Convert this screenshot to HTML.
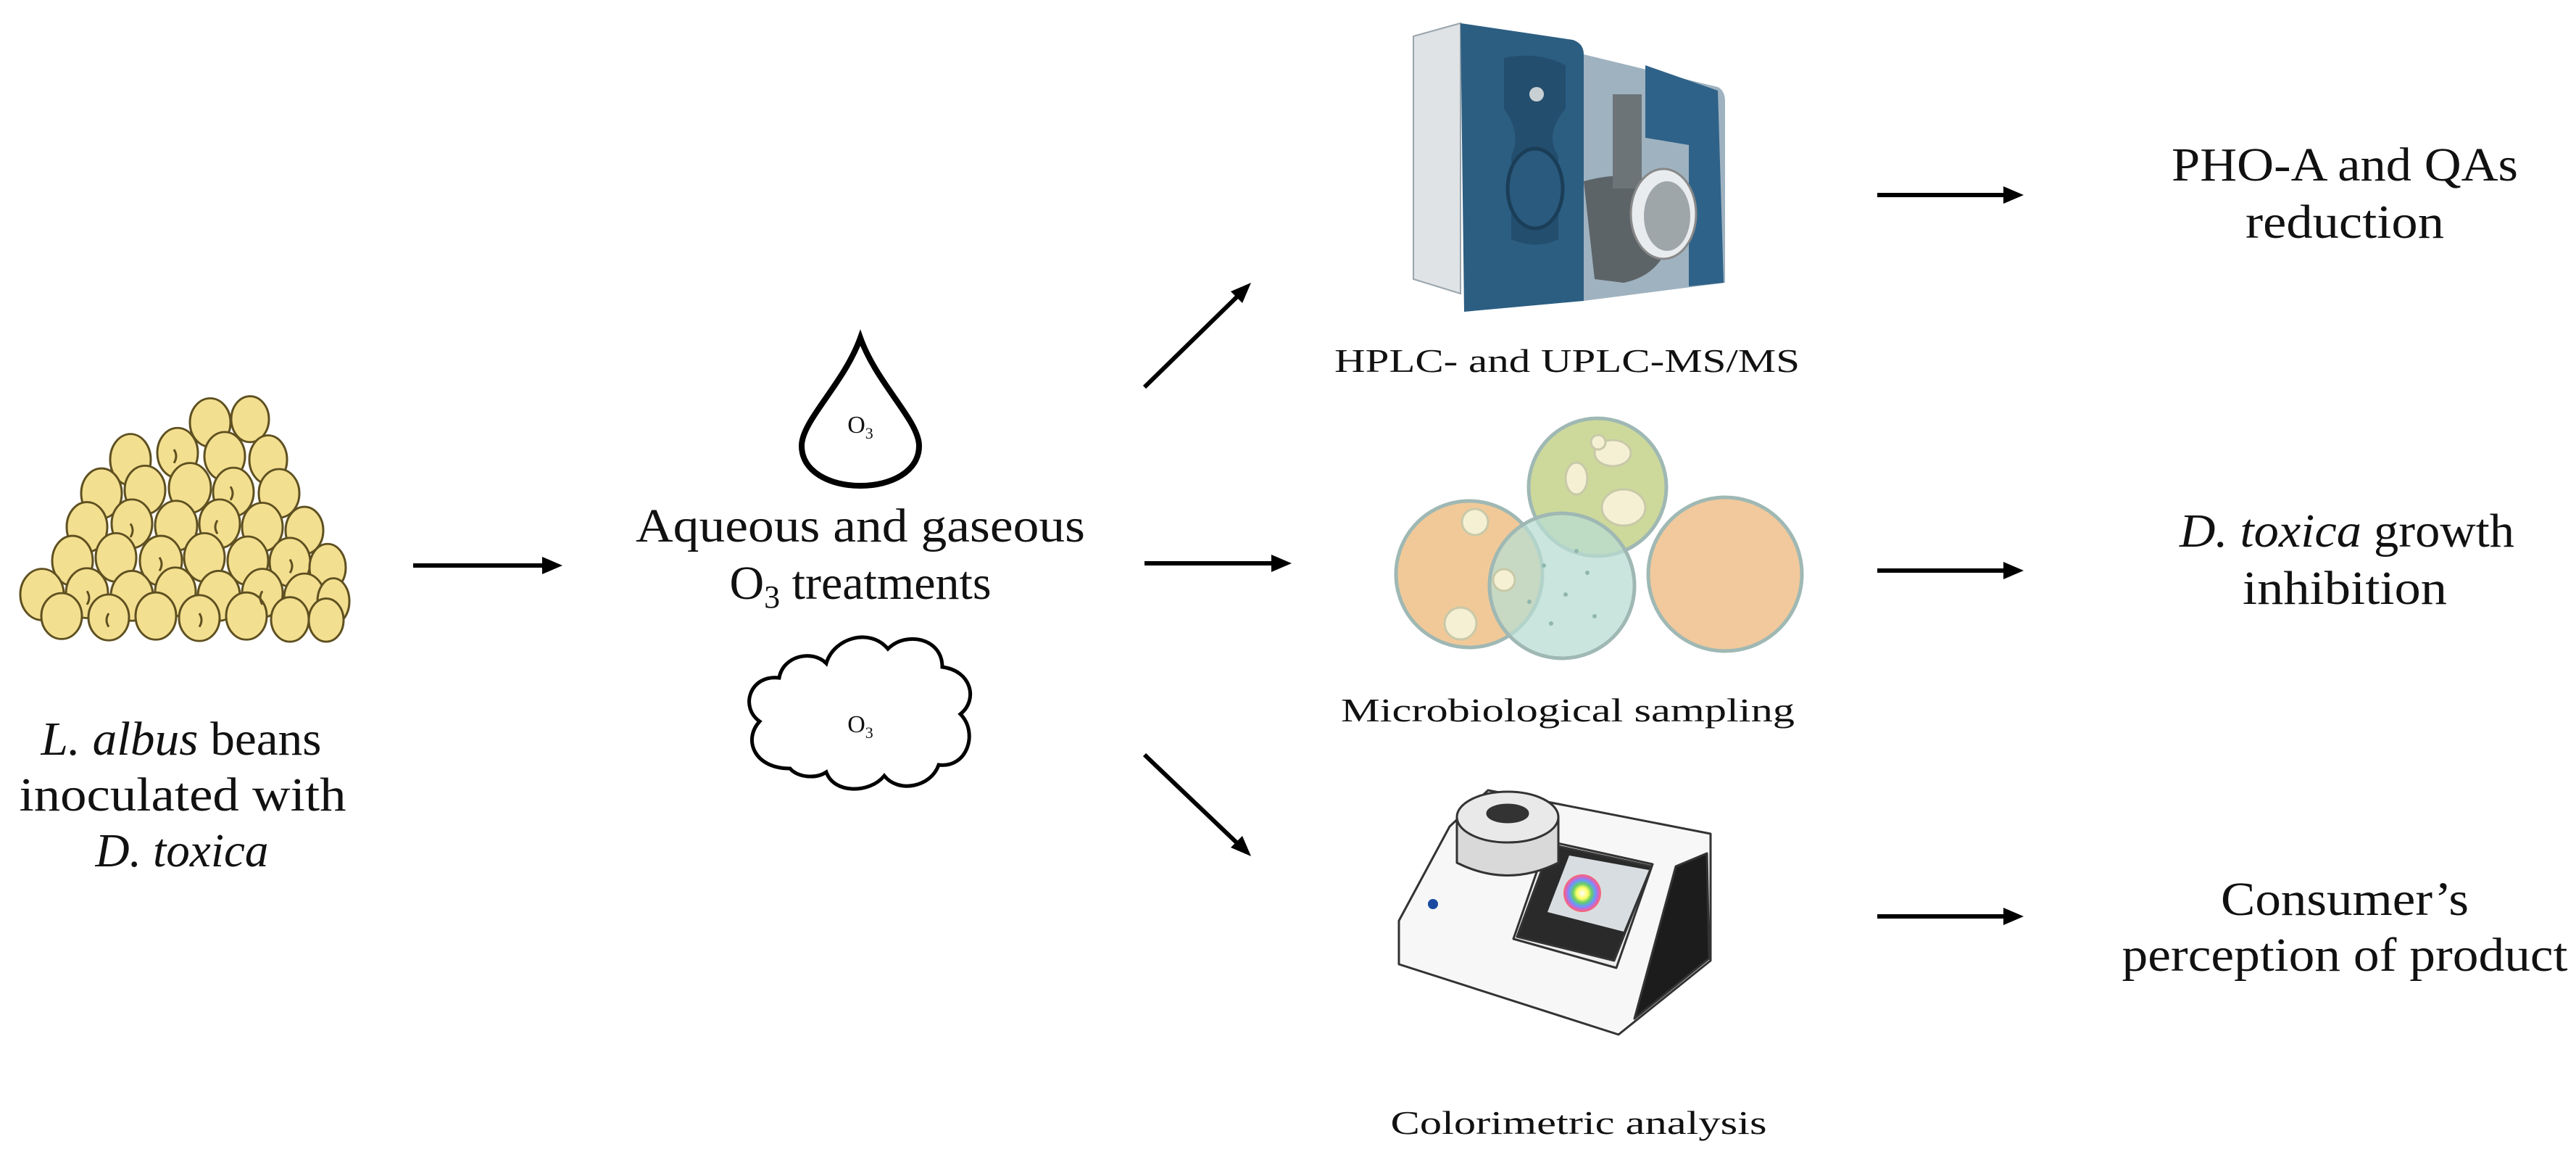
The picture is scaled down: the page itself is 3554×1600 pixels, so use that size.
<!DOCTYPE html>
<html><head><meta charset="utf-8"><style>
html,body{margin:0;padding:0;background:#fff}
svg{display:block}
text{font-family:"Liberation Serif",serif;fill:#111}
</style></head><body>
<svg width="3554" height="1600" viewBox="0 0 3554 1600" xmlns="http://www.w3.org/2000/svg">
<defs>
<radialGradient id="cw"><stop offset="0" stop-color="#fff"/><stop offset="0.3" stop-color="#ff6"/><stop offset="0.5" stop-color="#6c6"/><stop offset="0.7" stop-color="#69f"/><stop offset="0.85" stop-color="#c6c"/><stop offset="1" stop-color="#f66"/></radialGradient>
</defs>

<!-- Beans -->
<g transform="translate(0,554) scale(1,0.93) translate(0,-554)">
<g fill="#f3df90" stroke="#5e5020" stroke-width="3">
<ellipse cx="290" cy="585" rx="28" ry="36"/><ellipse cx="345" cy="580" rx="26" ry="34"/>
<ellipse cx="180" cy="640" rx="28" ry="38"/><ellipse cx="245" cy="630" rx="28" ry="37"/><ellipse cx="310" cy="635" rx="28" ry="36"/><ellipse cx="370" cy="640" rx="26" ry="36"/>
<ellipse cx="140" cy="690" rx="28" ry="37"/><ellipse cx="200" cy="685" rx="28" ry="36"/><ellipse cx="262" cy="682" rx="29" ry="37"/><ellipse cx="322" cy="688" rx="28" ry="36"/><ellipse cx="385" cy="690" rx="28" ry="36"/>
<ellipse cx="120" cy="740" rx="28" ry="37"/><ellipse cx="182" cy="735" rx="28" ry="36"/><ellipse cx="243" cy="738" rx="29" ry="37"/><ellipse cx="303" cy="735" rx="28" ry="36"/><ellipse cx="362" cy="740" rx="28" ry="36"/><ellipse cx="420" cy="745" rx="26" ry="35"/>
<ellipse cx="100" cy="790" rx="28" ry="37"/><ellipse cx="160" cy="785" rx="28" ry="36"/><ellipse cx="222" cy="790" rx="29" ry="37"/><ellipse cx="282" cy="785" rx="28" ry="36"/><ellipse cx="342" cy="790" rx="28" ry="36"/><ellipse cx="400" cy="792" rx="28" ry="36"/><ellipse cx="452" cy="800" rx="25" ry="35"/>
<ellipse cx="58" cy="840" rx="30" ry="38"/><ellipse cx="120" cy="838" rx="29" ry="37"/><ellipse cx="182" cy="842" rx="29" ry="37"/><ellipse cx="242" cy="836" rx="28" ry="36"/><ellipse cx="302" cy="842" rx="29" ry="37"/><ellipse cx="362" cy="838" rx="28" ry="36"/><ellipse cx="420" cy="845" rx="28" ry="36"/><ellipse cx="460" cy="850" rx="22" ry="34"/>
<ellipse cx="85" cy="872" rx="28" ry="34"/><ellipse cx="150" cy="874" rx="28" ry="34"/><ellipse cx="215" cy="872" rx="28" ry="35"/><ellipse cx="275" cy="875" rx="28" ry="34"/><ellipse cx="340" cy="872" rx="28" ry="35"/><ellipse cx="400" cy="877" rx="26" ry="33"/><ellipse cx="450" cy="878" rx="24" ry="32"/>
</g>
<g stroke="#5e5020" stroke-width="3" fill="none">
<path d="M240 625 q6 10 0 20"/><path d="M318 680 q6 10 0 20"/><path d="M180 735 q6 10 0 20"/><path d="M300 730 q-6 10 0 20"/><path d="M220 785 q6 10 0 20"/><path d="M120 835 q6 10 0 20"/><path d="M362 835 q-6 10 0 20"/><path d="M275 868 q6 10 0 20"/><path d="M400 788 q6 10 0 20"/><path d="M150 868 q-6 10 0 20"/>
</g>
</g>

<text x="250" y="1041" font-size="66" text-anchor="middle" textLength="387" lengthAdjust="spacingAndGlyphs"><tspan font-style="italic">L. albus</tspan> beans</text>
<text x="252" y="1118" font-size="66" text-anchor="middle" textLength="451" lengthAdjust="spacingAndGlyphs">inoculated with</text>
<text x="251" y="1195" font-size="66" text-anchor="middle" font-style="italic" textLength="239" lengthAdjust="spacingAndGlyphs">D. toxica</text>

<!-- arrows -->
<g stroke="#000" stroke-width="6" fill="#000">
<line x1="570" y1="780" x2="752" y2="780"/><polygon points="776,780 748,768 748,792" stroke="none"/>
<line x1="1579" y1="777" x2="1758" y2="777"/><polygon points="1782,777 1754,765 1754,789" stroke="none"/>
<line x1="1579" y1="534" x2="1708" y2="408"/><polygon points="1726,390 1698,402 1714,418" stroke="none"/>
<line x1="1579" y1="1041" x2="1708" y2="1164"/><polygon points="1726,1181 1714,1153 1698,1169" stroke="none"/>
<line x1="2590" y1="269" x2="2768" y2="269"/><polygon points="2792,269 2764,257 2764,281" stroke="none"/>
<line x1="2590" y1="787" x2="2768" y2="787"/><polygon points="2792,787 2764,775 2764,799" stroke="none"/>
<line x1="2590" y1="1264" x2="2768" y2="1264"/><polygon points="2792,1264 2764,1252 2764,1276" stroke="none"/>
</g>

<!-- drop -->
<path d="M1187 466 C1210 530 1268 580 1268 615 C1268 650 1230 670 1187 670 C1144 670 1106 650 1106 615 C1106 580 1164 530 1187 466 Z" fill="#fff" stroke="#000" stroke-width="8"/>
<text x="1187" y="597" font-size="34" text-anchor="middle">O<tspan font-size="22" dy="8">3</tspan></text>

<text x="1187" y="747" font-size="66" text-anchor="middle" textLength="620" lengthAdjust="spacingAndGlyphs">Aqueous and gaseous</text>
<text x="1187" y="826" font-size="66" text-anchor="middle">O<tspan font-size="44" dy="12">3</tspan><tspan dy="-12"> treatments</tspan></text>

<!-- cloud -->
<path d="M1090 1060 C1040 1060 1025 1020 1048 995 C1020 975 1035 930 1075 935 C1080 905 1120 895 1140 915 C1150 880 1200 865 1225 895 C1250 870 1300 880 1300 920 C1340 925 1350 965 1325 985 C1350 1010 1335 1060 1295 1055 C1285 1085 1240 1095 1220 1070 C1200 1095 1150 1095 1140 1065 C1125 1075 1100 1072 1090 1060 Z" fill="#fff" stroke="#000" stroke-width="5"/>
<text x="1187" y="1010" font-size="34" text-anchor="middle">O<tspan font-size="22" dy="8">3</tspan></text>

<!-- HPLC -->
<g>
<polygon points="1950,50 2015,32 2015,405 1950,385" fill="#dfe3e6" stroke="#9aa5ad" stroke-width="2"/>
<path d="M2015 32 L2170 55 Q2185 60 2185 75 L2185 415 L2020 430 Z" fill="#2c5e82"/>
<path d="M2185 75 L2370 120 Q2380 125 2380 140 L2380 390 L2185 415 Z" fill="#9fb2c0"/>
<path d="M2270 90 L2370 125 L2378 390 L2330 395 L2330 200 L2270 190 Z" fill="#2f6288"/>
<path d="M2075 80 Q2120 70 2160 90 L2160 150 Q2130 185 2150 215 L2150 330 Q2120 345 2085 330 L2085 215 Q2100 185 2075 150 Z" fill="#234e6e"/>
<ellipse cx="2118" cy="260" rx="38" ry="55" fill="#2a5a7e" stroke="#1b3e58" stroke-width="5"/>
<circle cx="2120" cy="130" r="10" fill="#c9d0d4"/>
<path d="M2185 250 Q2240 235 2280 250 L2305 330 Q2290 380 2240 390 L2200 385 Z" fill="#5d6468"/>
<rect x="2225" y="130" width="40" height="130" fill="#6d7478"/>
<ellipse cx="2295" cy="295" rx="45" ry="62" fill="#e9ecee" stroke="#888" stroke-width="3"/>
<ellipse cx="2300" cy="298" rx="32" ry="48" fill="#9ea6aa"/>
</g>
<text x="2162" y="513" font-size="46" text-anchor="middle" textLength="642" lengthAdjust="spacingAndGlyphs">HPLC- and UPLC-MS/MS</text>

<!-- Petri dishes -->
<g stroke="#9fb8b4" stroke-width="5">
<circle cx="2027" cy="792" r="101" fill="#f1c998"/>
<circle cx="2380" cy="792" r="106" fill="#f1c99c"/>
<circle cx="2204" cy="672" r="95" fill="#cdd99b"/>
<circle cx="2155" cy="808" r="100" fill="#b8dcd2" fill-opacity="0.75"/>
</g>
<g fill="#f5f0d4" stroke="#c8c9a8" stroke-width="3">
<circle cx="2035" cy="720" r="18"/><circle cx="2015" cy="860" r="22"/><circle cx="2075" cy="800" r="15"/>
<ellipse cx="2225" cy="625" rx="25" ry="18"/><ellipse cx="2175" cy="660" rx="15" ry="22"/><ellipse cx="2240" cy="700" rx="30" ry="25"/><circle cx="2205" cy="610" r="10"/>
</g>
<g fill="#8fb7ad">
<circle cx="2130" cy="780" r="3"/><circle cx="2160" cy="820" r="3"/><circle cx="2190" cy="790" r="3"/><circle cx="2140" cy="860" r="3"/><circle cx="2200" cy="850" r="3"/><circle cx="2110" cy="830" r="3"/><circle cx="2175" cy="760" r="3"/>
</g>
<text x="2163" y="995" font-size="46" text-anchor="middle" textLength="626" lengthAdjust="spacingAndGlyphs">Microbiological sampling</text>

<!-- Colorimeter -->
<g stroke="#333" stroke-width="3" stroke-linejoin="round">
<path d="M2053 1090 L2360 1150 L2360 1325 L2233 1427 L1930 1330 L1930 1270 L2000 1140 Z" fill="#f7f7f7"/>
<polygon points="2355,1177 2358,1322 2255,1405 2312,1195" fill="#1c1c1c"/>
<polygon points="2135,1160 2280,1192 2230,1335 2088,1295" fill="#eee"/>
<polygon points="2140,1165 2278,1195 2227,1325 2093,1292" fill="#2a2a2a"/>
<polygon points="2165,1180 2275,1200 2240,1285 2135,1258" fill="#d8dde2" stroke="none"/>
<path d="M2010 1127 L2010 1190 Q2080 1225 2150 1190 L2150 1127" fill="#d9d9d9"/>
<ellipse cx="2080" cy="1127" rx="70" ry="35" fill="#e9e9e9"/>
<ellipse cx="2080" cy="1122" rx="28" ry="12" fill="#333"/>
</g>
<circle cx="2183" cy="1232" r="26" fill="url(#cw)"/>
<circle cx="1977" cy="1247" r="7" fill="#1a4aa0"/>
<text x="2178" y="1564" font-size="46" text-anchor="middle" textLength="519" lengthAdjust="spacingAndGlyphs">Colorimetric analysis</text>

<!-- right texts -->
<text x="3235" y="249" font-size="66" text-anchor="middle" textLength="478" lengthAdjust="spacingAndGlyphs">PHO-A and QAs</text>
<text x="3235" y="328" font-size="66" text-anchor="middle" textLength="274" lengthAdjust="spacingAndGlyphs">reduction</text>
<text x="3238" y="754" font-size="66" text-anchor="middle" textLength="462" lengthAdjust="spacingAndGlyphs"><tspan font-style="italic">D. toxica</tspan> growth</text>
<text x="3235" y="833" font-size="66" text-anchor="middle" textLength="282" lengthAdjust="spacingAndGlyphs">inhibition</text>
<text x="3235" y="1262" font-size="66" text-anchor="middle" textLength="342" lengthAdjust="spacingAndGlyphs">Consumer’s</text>
<text x="3235" y="1339" font-size="66" text-anchor="middle" textLength="615" lengthAdjust="spacingAndGlyphs">perception of product</text>
</svg>
</body></html>
